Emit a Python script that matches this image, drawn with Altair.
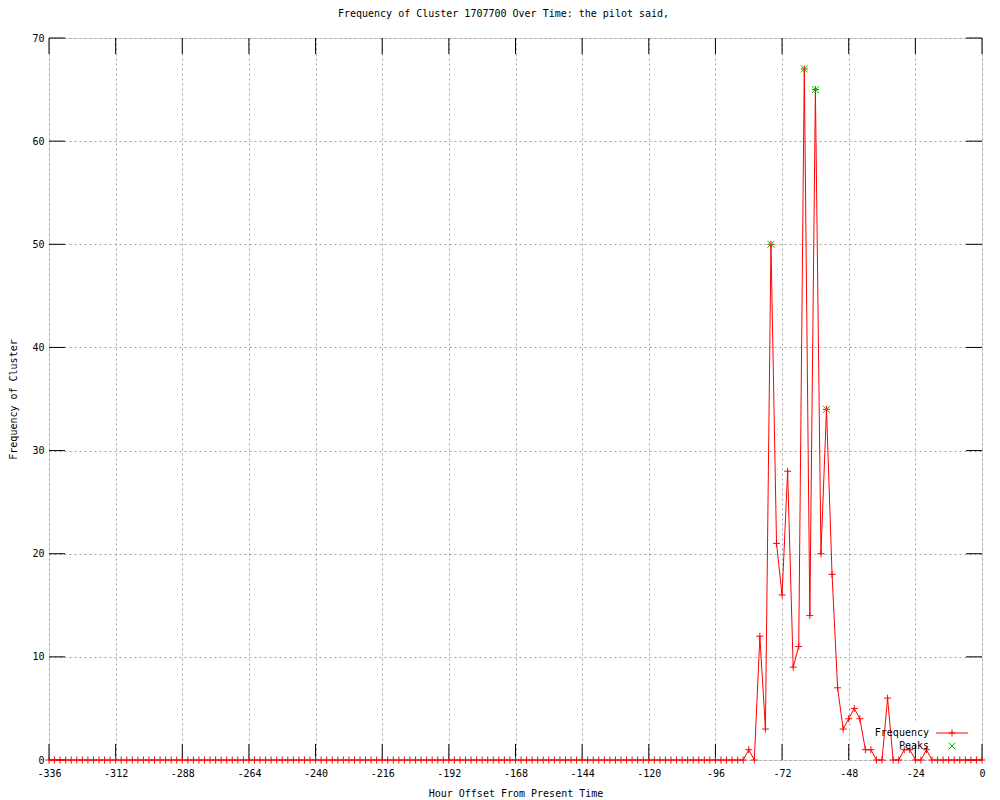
import altair as alt
import pandas as pd

FONT = "DejaVu Sans Mono"

HOURS = list(range(-336, 1, 2))
FREQ = [
    0, 0, 0, 0, 0, 0, 0, 0, 0, 0, 0, 0, 0, 0, 0, 0, 0, 0,
    0, 0, 0, 0, 0, 0, 0, 0, 0, 0, 0, 0, 0, 0, 0, 0, 0, 0,
    0, 0, 0, 0, 0, 0, 0, 0, 0, 0, 0, 0, 0, 0, 0, 0, 0, 0,
    0, 0, 0, 0, 0, 0, 0, 0, 0, 0, 0, 0, 0, 0, 0, 0, 0, 0,
    0, 0, 0, 0, 0, 0, 0, 0, 0, 0, 0, 0, 0, 0, 0, 0, 0, 0,
    0, 0, 0, 0, 0, 0, 0, 0, 0, 0, 0, 0, 0, 0, 0, 0, 0, 0,
    0, 0, 0, 0, 0, 0, 0, 0, 0, 0, 0, 0, 0, 0, 0, 0, 0, 0,
    1, 0, 12, 3, 50, 21, 16, 28, 9, 11,
    67, 14, 65, 20, 34, 18, 7, 3, 4, 5,
    4, 1, 1, 0, 0, 6, 0, 0, 1, 1,
    0, 0, 1, 0, 0, 0, 0, 0, 0, 0,
    0, 0, 0,
]
assert len(FREQ) == len(HOURS)

PEAK_HOURS = [-76, -64, -60, -56]
PEAK_VALUES = [50, 67, 65, 34]

X_TICKS = list(range(-336, 1, 24))
Y_TICKS = [0, 10, 20, 30, 40, 50, 60, 70]

LEGEND_LABELS = ["Frequency", "Peaks"]

W, H = 933, 722
TICK = 16
PLUS = "M-1,0L1,0M0,-1L0,1"
CROSS = "M-1,-1L1,1M-1,1L1,-1"
RED = "#ff0000"
GREEN = "#00c000"

freq_df = pd.DataFrame({"h": HOURS, "v": FREQ})
peak_df = pd.DataFrame({"h": PEAK_HOURS, "v": PEAK_VALUES})
xt_df = pd.DataFrame({"h": X_TICKS})
yt_df = pd.DataFrame({"v": Y_TICKS})
one_df = pd.DataFrame({"k": [0]})

xscale = alt.Scale(domain=[-336, 0], nice=False, zero=False)
yscale = alt.Scale(domain=[0, 70], nice=False)

common = dict(grid=True, gridDash=[2, 3], gridColor="#a0a0a0", gridWidth=1,
              ticks=False, tickSize=0, domain=False,
              labelExpr="'' + datum.value", labelFlush=False, labelOverlap=False,
              labelFont=FONT, labelFontSize=10, labelFontWeight="normal", labelColor="black",
              titleFont=FONT, titleFontSize=10, titleFontWeight="normal", titleColor="black")

x_axis = alt.Axis(values=X_TICKS, labelPadding=8,
                  title="Hour Offset From Present Time", titleY=33, titleBaseline="middle",
                  **common)
y_axis = alt.Axis(values=Y_TICKS, labelPadding=5,
                  title="Frequency of Cluster", titleX=-36, titleY=H / 2, titleAngle=270,
                  titleAlign="center", titleBaseline="middle", **common)

X = alt.X("h:Q", scale=xscale, axis=x_axis)
Y = alt.Y("v:Q", scale=yscale, axis=y_axis)

# white key box (gnuplot clears the grid under the key)
blank = alt.Chart(one_df).mark_rect(color="white").encode(
    x=alt.value(823), x2=alt.value(923), y=alt.value(684), y2=alt.value(722))

line = alt.Chart(freq_df).mark_line(color=RED, strokeWidth=1).encode(x=X, y=Y)
pts = alt.Chart(freq_df).mark_point(shape=PLUS, size=49, filled=False, color=RED,
                                    strokeWidth=1, opacity=1).encode(x=X, y=Y)
peaks = alt.Chart(peak_df).mark_point(shape=CROSS, size=49, filled=False, color=GREEN,
                                      strokeWidth=1, opacity=1).encode(x=X, y=Y)

tb = alt.Chart(xt_df).mark_rule(color="black", strokeWidth=1).encode(
    x=X, y=alt.value(H), y2=alt.value(H - TICK))
tt = alt.Chart(xt_df).mark_rule(color="black", strokeWidth=1).encode(
    x=X, y=alt.value(0), y2=alt.value(TICK))
tl = alt.Chart(yt_df).mark_rule(color="black", strokeWidth=1).encode(
    y=Y, x=alt.value(0), x2=alt.value(TICK))
tr = alt.Chart(yt_df).mark_rule(color="black", strokeWidth=1).encode(
    y=Y, x=alt.value(W), x2=alt.value(W - TICK))

leg_t1 = alt.Chart(one_df).mark_text(text=LEGEND_LABELS[0], align="right", baseline="middle",
                                     font=FONT, fontSize=10, color="black").encode(
    x=alt.value(880), y=alt.value(695))
leg_t2 = alt.Chart(one_df).mark_text(text=LEGEND_LABELS[1], align="right", baseline="middle",
                                     font=FONT, fontSize=10, color="black").encode(
    x=alt.value(880), y=alt.value(708))
leg_l = alt.Chart(one_df).mark_rule(color=RED, strokeWidth=1).encode(
    x=alt.value(887), x2=alt.value(919), y=alt.value(695))
leg_p = alt.Chart(one_df).mark_point(shape=PLUS, size=49, filled=False, color=RED,
                                     strokeWidth=1, opacity=1).encode(
    x=alt.value(903), y=alt.value(695))
leg_x = alt.Chart(one_df).mark_point(shape=CROSS, size=49, filled=False, color=GREEN,
                                     strokeWidth=1, opacity=1).encode(
    x=alt.value(903), y=alt.value(708))

chart = alt.layer(
    blank, tb, tt, tl, tr, line, pts, peaks, leg_t1, leg_t2, leg_l, leg_p, leg_x
).properties(
    width=W, height=H,
    title=alt.TitleParams("Frequency of Cluster 1707700 Over Time: the pilot said,",
                          font=FONT, fontSize=10, fontWeight="normal", anchor="middle",
                          dx=-12, offset=14, color="black"),
    autosize=alt.AutoSizeParams(type="none"),
    padding={"left": 41, "top": 30, "right": 9, "bottom": 40},
).configure_view(stroke="black", strokeWidth=1).configure(background="white")

chart.save("out.html", embed_options={"renderer": "svg", "actions": False})
